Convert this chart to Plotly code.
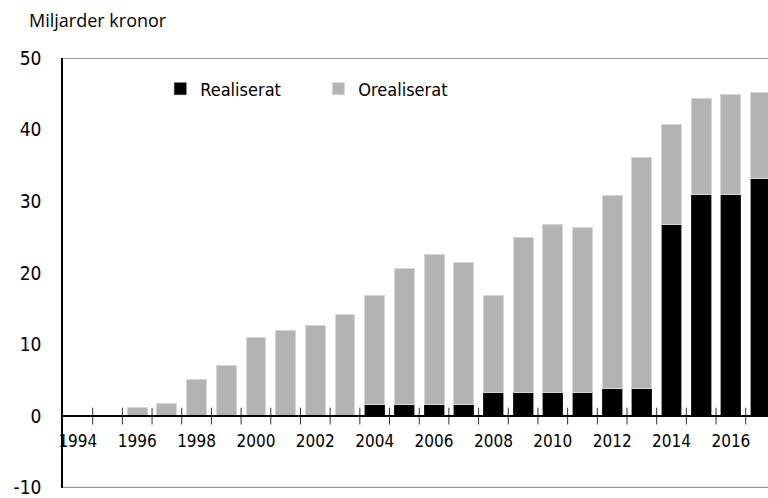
import plotly.graph_objects as go

years = list(range(1994, 2018))
realiserat = [0, 0, 0, 0, 0, 0, 0, 0.15, 0.15, 0.15,
              1.65, 1.65, 1.65, 1.65, 3.35, 3.35, 3.35, 3.35,
              3.85, 3.85, 26.7, 30.9, 30.9, 33.2]
totalt = [0, 0, 1.2, 1.75, 5.1, 7.1, 11.0, 11.9, 12.6, 14.2,
          16.8, 20.6, 22.5, 21.4, 16.9, 25.0, 26.8, 26.3,
          30.8, 36.1, 40.7, 44.4, 44.9, 45.2]
orealiserat = [round(t - r, 2) for t, r in zip(totalt, realiserat)]
tick_labels = [str(y) if y % 2 == 0 else "" for y in years]
y_ticks = [-10, 0, 10, 20, 30, 40, 50]
y_tick_labels = ["-10", "0", "10", "20", "30", "40", "50"]

NARROW = "DejaVu Sans Condensed, Liberation Sans Narrow, Liberation Sans, sans-serif"

fig = go.Figure()
fig.add_trace(go.Bar(x=years, y=realiserat, name="Realiserat",
                     marker=dict(color="#000000", line=dict(color="#3a3a3a", width=0.5)),
                     width=0.67))
fig.add_trace(go.Bar(x=years, y=orealiserat, name="Orealiserat",
                     marker=dict(color="#b3b3b3", line=dict(color="#d6d6d6", width=1)),
                     width=0.67))
# tick marks crossing the zero line between categories
bounds = [y + 0.5 for y in years[:-1]]
fig.add_trace(go.Scatter(x=bounds, y=[0] * len(bounds), mode="markers",
                         marker=dict(symbol="line-ns", size=12,
                                     line=dict(color="#333333", width=1)),
                         showlegend=False, hoverinfo="skip"))

fig.update_layout(
    barmode="stack",
    width=768, height=498,
    margin=dict(l=63, r=0, t=58, b=8),
    plot_bgcolor="white", paper_bgcolor="white",
    font=dict(family=NARROW, size=18, color="#000000"),
    legend=dict(orientation="h", x=0.138, y=0.928, xanchor="left", yanchor="middle",
                font=dict(family=NARROW, size=18), entrywidth=113,
                bgcolor="rgba(0,0,0,0)", traceorder="normal"),
    xaxis=dict(range=[1993.5, 2017.25], tickmode="array", tickvals=years,
               ticktext=tick_labels, ticks="", showgrid=False, zeroline=False,
               showline=True, linecolor="#000000", linewidth=1.5,
               anchor="free", position=0.1667, ticklabelstandoff=10,
               tickfont=dict(family=NARROW, size=17)),
    yaxis=dict(range=[-10.04, 50], tickmode="array", tickvals=y_ticks,
               ticktext=y_tick_labels, ticks="", showgrid=False,
               zeroline=False, showline=True, linecolor="#000000", linewidth=1.5,
               ticklabelstandoff=16, ticklabeloverflow="allow",
               tickfont=dict(family=NARROW, size=19)),
    annotations=[dict(text="Miljarder kronor", xref="paper", yref="paper",
                      x=-0.051, y=1.088, xanchor="left", yanchor="middle",
                      showarrow=False,
                      font=dict(family="Open Sans, sans-serif", size=18, color="#000000"))],
    shapes=[dict(type="line", xref="paper", yref="y", x0=0, x1=1, y0=50, y1=50,
                 line=dict(color="#7a7a7a", width=1.5)),
            dict(type="line", xref="paper", yref="y", x0=0, x1=1, y0=-10, y1=-10,
                 line=dict(color="#999999", width=2))],
    bargap=0.33,
)

fig.write_html("out.html", config={"displayModeBar": False},
               post_script="document.body.style.margin='0';")
